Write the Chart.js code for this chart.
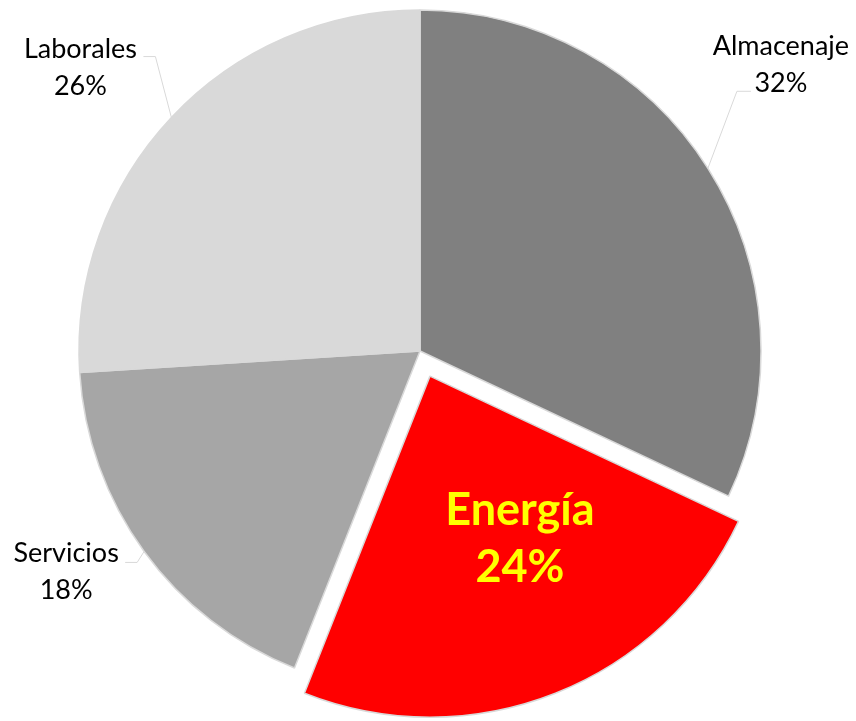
<!DOCTYPE html>
<html>
<head>
<meta charset="utf-8">
<script src="https://cdn.jsdelivr.net/npm/chart.js@4/dist/chart.umd.min.js"></script>
<style>
  html, body { margin: 0; padding: 0; background: #ffffff; }
  #wrap { width: 856px; height: 721px; position: relative; }
</style>
</head>
<body>
<div id="wrap"><canvas id="pieCosts"></canvas></div>
<script>
// data
const categories = ['Almacenaje', 'Energía', 'Servicios', 'Laborales'];
const shares = [32, 24, 18, 26];

// looks
const sliceColors = ['#808080', '#ff0000', '#a6a6a6', '#d9d9d9'];
const sliceOffsets = [0, 108, 0, 0];   // chart.js moves the slice by offset/4

// where each label goes, relative to the point where the leader leaves the arc
// elbow = where the leader bends, run = length of the flat piece, text = label centre / first baseline from elbow
const labelPlaces = [
  { inside: false, elbow: [29, -77], run: 14, text: [44, -36] },
  { inside: true, text: [90, 149] },
  { inside: false, elbow: [-7, 11], run: -12, text: [-71, 0] },
  { inside: false, elbow: [-16, -61], run: -12, text: [-75, 1] }
];

const total = shares.reduce((a, b) => a + b, 0);

const pieLabels = {
  id: 'pieLabels',
  afterDatasetsDraw(chart) {
    const ctx = chart.ctx;
    const meta = chart.getDatasetMeta(0);
    meta.data.forEach((arc, i) => {
      const p = arc.getProps(['x', 'y', 'startAngle', 'endAngle', 'outerRadius'], true);
      const mid = (p.startAngle + p.endAngle) / 2;
      const shift = sliceOffsets[i] / 4;
      const cx = p.x + Math.cos(mid) * shift;
      const cy = p.y + Math.sin(mid) * shift;
      const pct = Math.round(shares[i] / total * 100) + '%';
      const place = labelPlaces[i];
      ctx.save();
      ctx.textAlign = 'center';
      ctx.textBaseline = 'alphabetic';
      if (place.inside) {
        ctx.fillStyle = '#ffff00';
        ctx.font = 'bold 45px Lato';
        const tx = cx + place.text[0];
        const ty = cy + place.text[1];
        ctx.fillText(categories[i], tx, ty);
        ctx.fillText(pct, tx, ty + 57);
      } else {
        const ex = cx + Math.cos(mid) * p.outerRadius;
        const ey = cy + Math.sin(mid) * p.outerRadius;
        const bx = ex + place.elbow[0];
        const by = ey + place.elbow[1];
        ctx.strokeStyle = '#d9d9d9';
        ctx.lineWidth = 1;
        ctx.beginPath();
        ctx.moveTo(ex, ey);
        ctx.lineTo(bx, by);
        ctx.lineTo(bx + place.run, by);
        ctx.stroke();
        ctx.fillStyle = '#000000';
        ctx.font = '27px Lato';
        const tx = bx + place.text[0];
        const ty = by + place.text[1];
        ctx.fillText(categories[i], tx, ty);
        ctx.fillText(pct, tx, ty + 37);
      }
      ctx.restore();
    });
  }
};

const config = {
  type: 'pie',
  data: {
    labels: categories,
    datasets: [{
      data: shares,
      backgroundColor: sliceColors,
      borderColor: '#d9d9d9',
      borderWidth: 1.5,
      offset: sliceOffsets,
      hoverOffset: 0,
      clip: false
    }]
  },
  options: {
    responsive: true,
    maintainAspectRatio: false,
    animation: false,
    radius: 341,
    layout: { padding: { left: 0, right: 16, top: 0, bottom: 19 } },
    plugins: {
      legend: { display: false },
      tooltip: { enabled: false },
      title: { display: false }
    }
  },
  plugins: [pieLabels]
};

new Chart(document.getElementById('pieCosts'), config);
</script>
</body>
</html>
